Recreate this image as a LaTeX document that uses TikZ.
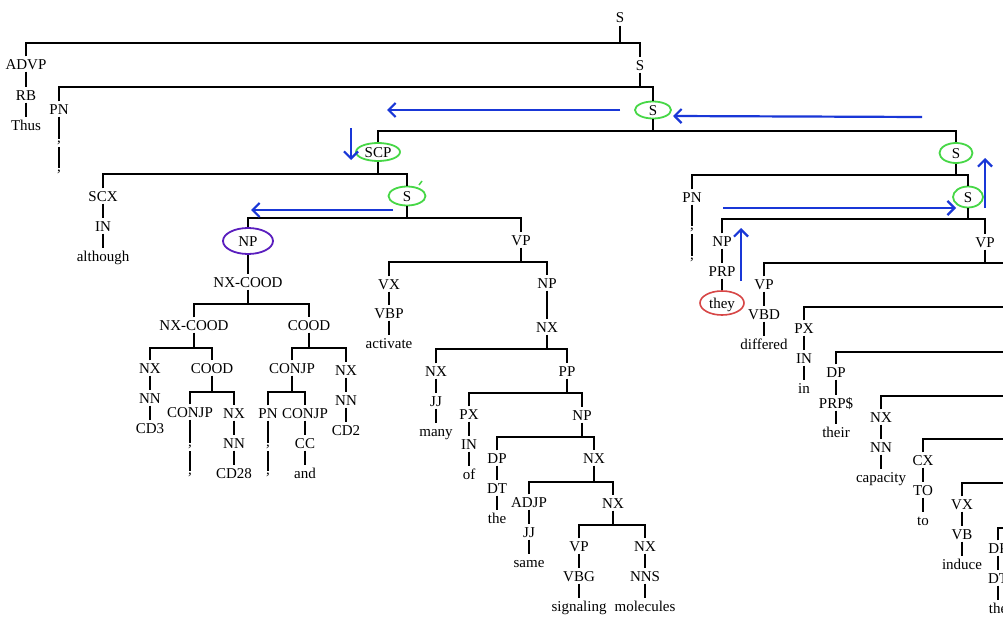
\documentclass[tikz,border=0pt]{standalone}
\usepackage{fontspec}
\setmainfont{Liberation Serif}
\usetikzlibrary{shapes.geometric,arrows.meta}
\definecolor{gr}{RGB}{70,215,70}
\definecolor{pu}{RGB}{90,30,190}
\definecolor{rd}{RGB}{215,70,70}
\definecolor{bl}{RGB}{25,55,215}
\newcommand\TreeBar[4]{%
  \draw[tree] (#1.south) -- (#1.south |- #4);
  \draw[tree] (#2.north) -- (#2.north |- #4) -- (#3.north |- #4) -- (#3.north);}
\newcommand\TreeEdge[2]{\draw[tree] (#1.south) -- (#2.north);}
\begin{document}
\begin{tikzpicture}[x=1pt,y=-1pt,font=\fontsize{15}{18}\selectfont,
  lbl/.style={inner xsep=1pt,inner ysep=2.5pt,text height=10pt,text depth=0pt},
  punct/.style={inner xsep=1pt,inner ysep=1.5pt,text height=2pt,text depth=3pt},
  gell/.style={lbl,ellipse,draw=gr,line width=1.8pt,inner sep=0pt,minimum width=36pt,minimum height=17pt},
  pell/.style={lbl,ellipse,draw=pu,line width=1.8pt,inner sep=0pt,minimum width=50pt,minimum height=26pt},
  rell/.style={lbl,ellipse,draw=rd,line width=1.6pt,inner sep=0pt,minimum width=44pt,minimum height=24pt},
  tree/.style={draw=black,line width=1.1pt},
  barrow/.style={draw=bl,line width=2.2pt,-{Straight Barb[length=7pt,width=14pt]}}]
\useasboundingbox (0,0) rectangle (1003,621);
\fill[white] (0,0) rectangle (1003,621);
\clip (0,0) rectangle (1003,621);
% ---------- top ----------
\node[lbl] (s0) at (620,18) {S};
\node[lbl] (s1) at (640,65) {S};
\node[lbl] (advp) at (26,64) {ADVP};
\node[lbl] (rb) at (26,95) {RB};
\node[lbl] (thus) at (26,125) {Thus};
\node[lbl] (pn1) at (59,109) {PN};
\node[punct] (c1a) at (59,143) {,};
\node[punct] (c1b) at (59,172) {,};
\node[gell] (s2) at (653,110) {S};
% ---------- left subtree ----------
\node[gell,minimum width=44pt,minimum height=18pt] (scp) at (378,152) {SCP};
\node[lbl] (scx) at (103,196) {SCX};
\node[lbl] (in1) at (103,226) {IN};
\node[lbl] (although) at (103,256) {although};
\node[gell,minimum width=37pt,minimum height=19pt] (s3) at (407,196) {S};
\node[pell] (np1) at (248,241) {NP};
\node[lbl] (nxc1) at (248,282) {NX-COOD};
\node[lbl] (nxc2) at (194,325) {NX-COOD};
\node[lbl] (cood1) at (309,325) {COOD};
\node[lbl] (nx1) at (150,368) {NX};
\node[lbl] (nn1) at (150,398) {NN};
\node[lbl] (cd3) at (150,428) {CD3};
\node[lbl] (cood2) at (212,368) {COOD};
\node[lbl] (conjp1) at (190,412) {CONJP};
\node[punct] (c2a) at (190,447) {,};
\node[punct] (c2b) at (190,475) {,};
\node[lbl] (nx2) at (234,413) {NX};
\node[lbl] (nn2) at (234,443) {NN};
\node[lbl] (cd28) at (234,473) {CD28};
\node[lbl] (conjp2) at (292,368) {CONJP};
\node[lbl] (nx3) at (346,370) {NX};
\node[lbl] (nn3) at (346,400) {NN};
\node[lbl] (cd2) at (346,430) {CD2};
\node[lbl] (pn2) at (268,413) {PN};
\node[punct] (c3a) at (268,447) {,};
\node[punct] (c3b) at (268,475) {,};
\node[lbl] (conjp3) at (305,413) {CONJP};
\node[lbl] (cc) at (305,443) {CC};
\node[lbl] (and) at (305,473) {and};
\node[lbl] (vp1) at (521,240) {VP};
\node[lbl] (vx1) at (389,284) {VX};
\node[lbl] (vbp) at (389,313) {VBP};
\node[lbl] (activate) at (389,343) {activate};
\node[lbl] (np2) at (547,283) {NP};
\node[lbl] (nx4) at (547,327) {NX};
\node[lbl] (nx5) at (436,371) {NX};
\node[lbl] (jj1) at (436,401) {JJ};
\node[lbl] (many) at (436,431) {many};
\node[lbl] (pp) at (567,371) {PP};
\node[lbl] (px1) at (469,414) {PX};
\node[lbl] (in2) at (469,444) {IN};
\node[lbl] (of) at (469,474) {of};
\node[lbl] (np3) at (582,415) {NP};
\node[lbl] (dp1) at (497,458) {DP};
\node[lbl] (dt1) at (497,488) {DT};
\node[lbl] (the1) at (497,518) {the};
\node[lbl] (nx6) at (594,458) {NX};
\node[lbl] (adjp) at (529,502) {ADJP};
\node[lbl] (jj2) at (529,532) {JJ};
\node[lbl] (same) at (529,562) {same};
\node[lbl] (nx7) at (613,503) {NX};
\node[lbl] (vp2) at (579,546) {VP};
\node[lbl] (vbg) at (579,576) {VBG};
\node[lbl] (signaling) at (579,606) {signaling};
\node[lbl] (nx8) at (645,546) {NX};
\node[lbl] (nns) at (645,576) {NNS};
\node[lbl] (molecules) at (645,606) {molecules};
% ---------- right subtree ----------
\node[gell,minimum width=33pt,minimum height=20pt] (s4) at (956,153) {S};
\node[lbl] (pn3) at (692,197) {PN};
\node[punct] (c4a) at (692,230) {,};
\node[punct] (c4b) at (692,260) {,};
\node[gell,minimum width=30pt,minimum height=21pt] (s5) at (968,197) {S};
\node[lbl] (np4) at (722,241) {NP};
\node[lbl] (prp) at (722,271) {PRP};
\node[rell] (they) at (722,303) {they};
\node[lbl] (vp3) at (985,242) {VP};
\node[lbl] (vp4) at (764,284) {VP};
\node[lbl] (vbd) at (764,314) {VBD};
\node[lbl] (differed) at (764,344) {differed};
\node[lbl] (px2) at (804,328) {PX};
\node[lbl] (in3) at (804,358) {IN};
\node[lbl] (inw) at (804,388) {in};
\node[lbl] (dp2) at (836,372) {DP};
\node[lbl] (prps) at (836,403) {PRP\$};
\node[lbl] (their) at (836,432) {their};
\node[lbl] (nx9) at (881,417) {NX};
\node[lbl] (nn4) at (881,447) {NN};
\node[lbl] (capacity) at (881,477) {capacity};
\node[lbl] (cx) at (923,460) {CX};
\node[lbl] (to1) at (923,490) {TO};
\node[lbl] (tow) at (923,520) {to};
\node[lbl] (vx2) at (962,504) {VX};
\node[lbl] (vb) at (962,534) {VB};
\node[lbl] (induce) at (962,564) {induce};
\node[lbl] (dp3) at (998,548) {DP};
\node[lbl] (dt2) at (998,578) {DT};
\node[lbl] (the2) at (998,608) {the};
% ---------- bar levels ----------
\coordinate (b0) at (0,43);
\coordinate (b1) at (0,87);
\coordinate (b2) at (0,131);
\coordinate (b3) at (0,174);
\coordinate (b4) at (0,218);
\coordinate (b5) at (0,304);
\coordinate (b6) at (0,348);
\coordinate (b7) at (0,392);
\coordinate (b8) at (0,262);
\coordinate (b9) at (0,349);
\coordinate (b10) at (0,393);
\coordinate (b11) at (0,437);
\coordinate (b12) at (0,482);
\coordinate (b13) at (0,525);
\coordinate (b14) at (0,175);
\coordinate (b15) at (0,219);
\coordinate (E1) at (1010,263);
\coordinate (E2) at (1010,307);
\coordinate (E3) at (1010,352);
\coordinate (E4) at (1010,396);
\coordinate (E5) at (1010,439);
\coordinate (E6) at (1010,483);
\coordinate (E7) at (1010,528);
% ---------- connectors ----------
\TreeBar{s0}{advp}{s1}{b0}
\TreeEdge{advp}{rb}\TreeEdge{rb}{thus}
\TreeBar{s1}{pn1}{s2}{b1}
\TreeEdge{pn1}{c1a}\TreeEdge{c1a}{c1b}
\TreeBar{s2}{scp}{s4}{b2}
\TreeBar{scp}{scx}{s3}{b3}
\TreeEdge{scx}{in1}\TreeEdge{in1}{although}
\TreeBar{s3}{np1}{vp1}{b4}
\TreeEdge{np1}{nxc1}
\TreeBar{nxc1}{nxc2}{cood1}{b5}
\TreeBar{nxc2}{nx1}{cood2}{b6}
\TreeEdge{nx1}{nn1}\TreeEdge{nn1}{cd3}
\TreeBar{cood2}{conjp1}{nx2}{b7}
\TreeEdge{conjp1}{c2a}\TreeEdge{c2a}{c2b}
\TreeEdge{nx2}{nn2}\TreeEdge{nn2}{cd28}
\TreeBar{cood1}{conjp2}{nx3}{b6}
\TreeEdge{nx3}{nn3}\TreeEdge{nn3}{cd2}
\TreeBar{conjp2}{pn2}{conjp3}{b7}
\TreeEdge{pn2}{c3a}\TreeEdge{c3a}{c3b}
\TreeEdge{conjp3}{cc}\TreeEdge{cc}{and}
\TreeBar{vp1}{vx1}{np2}{b8}
\TreeEdge{vx1}{vbp}\TreeEdge{vbp}{activate}
\TreeEdge{np2}{nx4}
\TreeBar{nx4}{nx5}{pp}{b9}
\TreeEdge{nx5}{jj1}\TreeEdge{jj1}{many}
\TreeBar{pp}{px1}{np3}{b10}
\TreeEdge{px1}{in2}\TreeEdge{in2}{of}
\TreeBar{np3}{dp1}{nx6}{b11}
\TreeEdge{dp1}{dt1}\TreeEdge{dt1}{the1}
\TreeBar{nx6}{adjp}{nx7}{b12}
\TreeEdge{adjp}{jj2}\TreeEdge{jj2}{same}
\TreeBar{nx7}{vp2}{nx8}{b13}
\TreeEdge{vp2}{vbg}\TreeEdge{vbg}{signaling}
\TreeEdge{nx8}{nns}\TreeEdge{nns}{molecules}
\TreeBar{s4}{pn3}{s5}{b14}
\TreeEdge{pn3}{c4a}\TreeEdge{c4a}{c4b}
\TreeBar{s5}{np4}{vp3}{b15}
\TreeEdge{np4}{prp}\TreeEdge{prp}{they}
\draw[tree] (vp3.south) -- (vp3.south |- E1);
\draw[tree] (vp4.north) -- (vp4.north |- E1) -- (E1);
\TreeEdge{vp4}{vbd}\TreeEdge{vbd}{differed}
\draw[tree] (px2.north) -- (px2.north |- E2) -- (E2);
\TreeEdge{px2}{in3}\TreeEdge{in3}{inw}
\draw[tree] (dp2.north) -- (dp2.north |- E3) -- (E3);
\TreeEdge{dp2}{prps}\TreeEdge{prps}{their}
\draw[tree] (nx9.north) -- (nx9.north |- E4) -- (E4);
\TreeEdge{nx9}{nn4}\TreeEdge{nn4}{capacity}
\draw[tree] (cx.north) -- (cx.north |- E5) -- (E5);
\TreeEdge{cx}{to1}\TreeEdge{to1}{tow}
\draw[tree] (vx2.north) -- (vx2.north |- E6) -- (E6);
\TreeEdge{vx2}{vb}\TreeEdge{vb}{induce}
\draw[tree] (dp3.north) -- (dp3.north |- E7) -- (E7);
\TreeEdge{dp3}{dt2}\TreeEdge{dt2}{the2}
% ---------- blue annotation arrows ----------
\coordinate (a1s) at (620,110); \coordinate (a1e) at (387,110);
\coordinate (a2s) at (922,117); \coordinate (a2e) at (673,116);
\coordinate (a3s) at (351,128); \coordinate (a3e) at (351,160);
\coordinate (a4s) at (393,210); \coordinate (a4e) at (251,210);
\coordinate (a5s) at (723,208); \coordinate (a5e) at (956,208);
\coordinate (a6s) at (985,208); \coordinate (a6e) at (985,158);
\coordinate (a7s) at (741,281); \coordinate (a7e) at (741,228);
\draw[barrow] (a1s) -- (a1e);
\draw[barrow] (a2s) -- (a2e);
\draw[barrow] (a3s) -- (a3e);
\draw[barrow] (a4s) -- (a4e);
\draw[barrow] (a5s) -- (a5e);
\draw[barrow] (a6s) -- (a6e);
\draw[barrow] (a7s) -- (a7e);
% small green tick
\coordinate (t1) at (419,185); \coordinate (t2) at (422,181);
\draw[draw=gr,line width=1.5pt] (t1) -- (t2);
\end{tikzpicture}
\end{document}
